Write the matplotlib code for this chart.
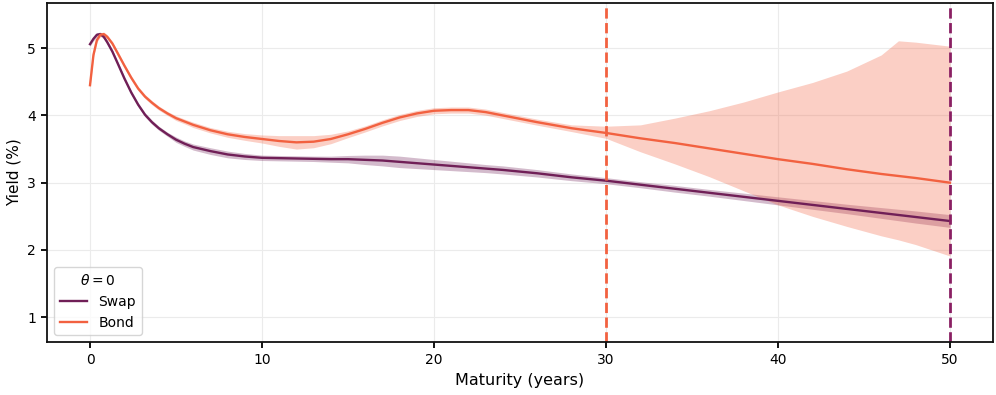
import numpy as np
import matplotlib
matplotlib.use("Agg")
import matplotlib.pyplot as plt

# maturities (years)
maturity = [0, 0.2, 0.4, 0.6, 0.8, 1.0, 1.3, 1.6, 2.0, 2.4, 2.8, 3.2, 3.6, 4.0, 4.5,
            5, 5.5, 6, 7, 8, 9, 10, 11, 12, 13, 14, 15, 16, 17, 18, 19, 20, 21, 22,
            23, 24, 26, 28, 30, 32, 34, 36, 38, 40, 42, 44, 46, 47, 48, 50]

swap_yield = [5.06, 5.14, 5.20, 5.21, 5.17, 5.09, 4.95, 4.78, 4.55, 4.34, 4.16, 4.01,
              3.90, 3.81, 3.72, 3.64, 3.58, 3.53, 3.47, 3.42, 3.39, 3.37, 3.365, 3.36,
              3.355, 3.35, 3.35, 3.34, 3.33, 3.31, 3.29, 3.27, 3.25, 3.23, 3.21, 3.19,
              3.14, 3.08, 3.03, 2.97, 2.91, 2.85, 2.79, 2.73, 2.67, 2.61, 2.55, 2.52,
              2.49, 2.43]
swap_err = [0.03] * 15 + [0.04, 0.04, 0.045, 0.05, 0.05, 0.045, 0.04, 0.04, 0.04, 0.04,
                          0.045, 0.055, 0.07, 0.08, 0.085, 0.08, 0.075, 0.07, 0.065,
                          0.06, 0.06, 0.055, 0.05, 0.045, 0.045, 0.05, 0.05, 0.055,
                          0.06, 0.065, 0.07, 0.08, 0.085, 0.09, 0.095]

bond_yield = [4.45, 4.90, 5.12, 5.20, 5.21, 5.17, 5.07, 4.93, 4.74, 4.56, 4.40, 4.28,
              4.19, 4.11, 4.03, 3.96, 3.91, 3.86, 3.78, 3.72, 3.68, 3.65, 3.62, 3.60,
              3.61, 3.65, 3.72, 3.80, 3.89, 3.97, 4.03, 4.07, 4.08, 4.08, 4.05, 4.00,
              3.90, 3.81, 3.74, 3.66, 3.59, 3.51, 3.43, 3.35, 3.28, 3.20, 3.13, 3.10,
              3.07, 3.00]
bond_err_up = [0.03] * 15 + [0.035, 0.035, 0.04, 0.04, 0.045, 0.05, 0.06, 0.08, 0.10,
                             0.09, 0.07, 0.05, 0.045, 0.045, 0.045, 0.045, 0.045, 0.045,
                             0.045, 0.045, 0.045, 0.045, 0.05, 0.10, 0.20, 0.37, 0.56,
                             0.77, 1.00, 1.21, 1.46, 1.77, 2.01, 2.02, 2.03]
bond_err_dn = [0.03] * 15 + [0.035, 0.035, 0.04, 0.04, 0.045, 0.05, 0.06, 0.08, 0.10,
                             0.09, 0.07, 0.05, 0.045, 0.045, 0.045, 0.045, 0.045, 0.045,
                             0.045, 0.045, 0.045, 0.045, 0.05, 0.08, 0.20, 0.31, 0.42,
                             0.55, 0.68, 0.78, 0.85, 0.92, 0.95, 0.99, 1.09]

swap_cutoff = 50
bond_cutoff = 30

swap_color = '#701f57'
bond_color = '#f26140'

m = np.array(maturity)
sy, se = np.array(swap_yield), np.array(swap_err)
by = np.array(bond_yield)

fig = plt.figure(figsize=(9.96, 3.95), dpi=100)
ax = fig.add_axes([0.0472, 0.134, 0.9498, 0.858])

ax.set_axisbelow(True)
ax.grid(True, color='#ebebeb', linewidth=0.8)

ax.fill_between(m, sy - se, sy + se, color=swap_color, alpha=0.3, linewidth=0)
ax.plot(m, sy, color=swap_color, lw=1.7, label='Swap')
ax.fill_between(m, by - np.array(bond_err_dn), by + np.array(bond_err_up),
                color=bond_color, alpha=0.3, linewidth=0)
ax.plot(m, by, color=bond_color, lw=1.7, label='Bond')

ax.axvline(bond_cutoff, color=bond_color, ls='--', lw=2)
ax.axvline(swap_cutoff, color='#8a1f63', ls='--', lw=2)

ax.set_xlim(-2.5, 52.5)
ax.set_ylim(0.63, 5.67)
ax.set_xticks([0, 10, 20, 30, 40, 50])
ax.set_yticks([1, 2, 3, 4, 5])
ax.set_xlabel('Maturity (years)', fontsize=11.5)
ax.set_ylabel('Yield (%)', fontsize=11)
ax.tick_params(axis='both', length=4.5, width=1.3, labelsize=10)
for sp in ax.spines.values():
    sp.set_linewidth(1.3)
    sp.set_color('#111111')

ax.legend(title=r'$\theta = 0$', loc='lower left', fontsize=10, title_fontsize=10,
          handlelength=2.0, framealpha=0.8, edgecolor='#cccccc')

fig.savefig('out.png', dpi=100)
